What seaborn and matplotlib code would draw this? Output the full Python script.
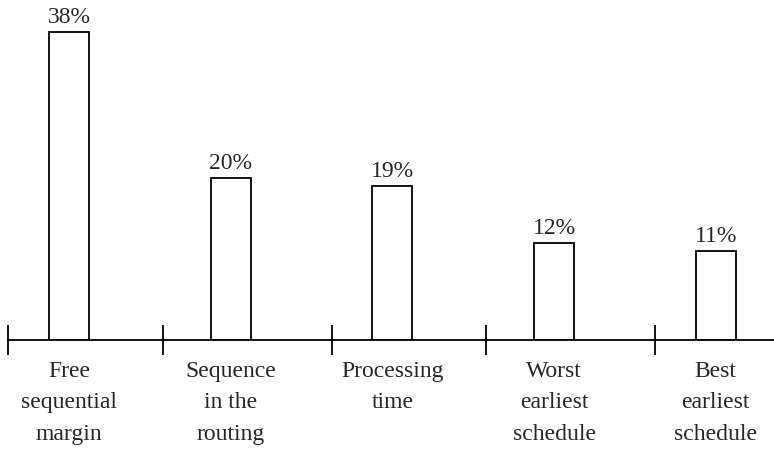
import matplotlib
matplotlib.use("Agg")
import matplotlib.pyplot as plt
import seaborn as sns

categories = ["Free\nsequential\nmargin", "Sequence\nin the\nrouting", "Processing\ntime",
              "Worst\nearliest\nschedule", "Best\nearliest\nschedule"]
shares = [38, 20, 19, 12, 11]
share_labels = ["38%", "20%", "19%", "12%", "11%"]

# boundary ticks between the groups (axis positions)
boundaries = [-0.377, 0.58, 1.625, 2.578, 3.622]

sns.set_style("white")
plt.rcParams['font.family'] = ['Liberation Serif', 'DejaVu Serif']

fig = plt.figure(figsize=(7.74, 4.5), dpi=100)
ax = fig.add_axes([8 / 774, 110 / 450, 766 / 774, 340 / 450])

sns.barplot(x=categories, y=shares, color="white", edgecolor="black",
            linewidth=1.3, width=0.247, saturation=1, ax=ax)
ax.bar_label(ax.containers[0], labels=share_labels, padding=3, fontsize=17)

ax.set_xlim(-0.377, 4.36)
ax.set_ylim(0, 42)
ax.set_yticks([])
ax.set_xticks(range(len(categories)))
ax.set_xticklabels(categories, fontsize=17, linespacing=1.65)
ax.tick_params(axis="x", which="major", length=0, pad=15)
ax.set_xticks(boundaries, minor=True)
ax.tick_params(axis="x", which="minor", bottom=True, direction="inout",
               length=22, width=1.3, color="black")

for side in ["top", "right", "left"]:
    ax.spines[side].set_visible(False)
ax.spines["bottom"].set_color("black")
ax.spines["bottom"].set_linewidth(1.3)

fig.savefig("out.png", dpi=100)
